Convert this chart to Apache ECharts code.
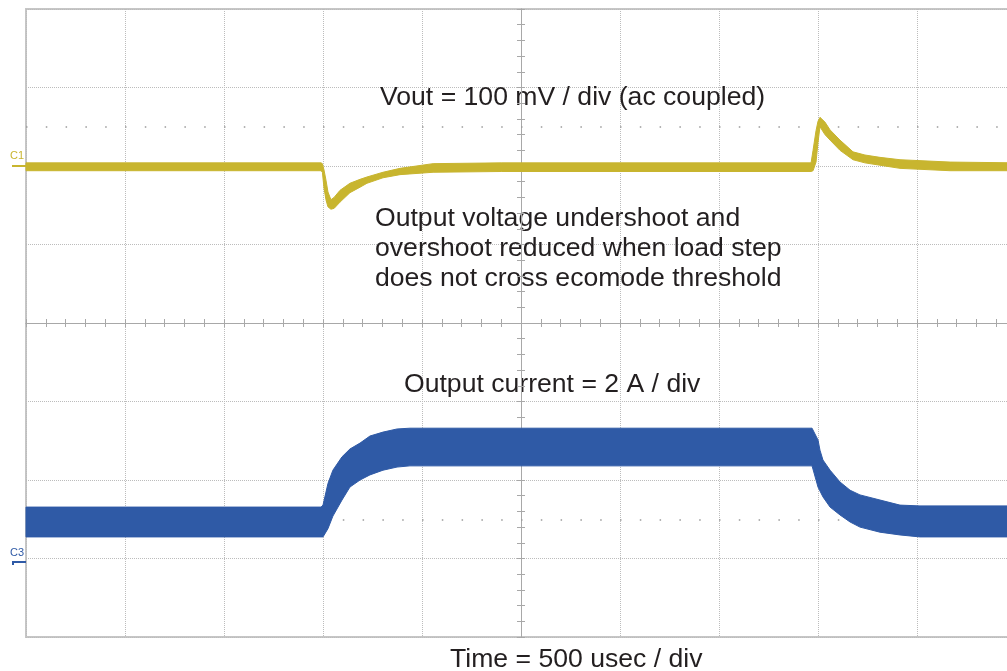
<!DOCTYPE html>
<html><head><meta charset="utf-8">
<script src="https://cdn.jsdelivr.net/npm/echarts@6/dist/echarts.min.js"></script>
<style>html,body{margin:0;padding:0;background:#fff}#c{width:1007px;height:671px}</style>
</head><body><div id="c"></div>
<script>
// ---- data (time in microseconds) ----
// C1: output voltage, ac coupled, mV (envelope of the noisy trace)
const c1Time  = [0, 1490, 1497, 1505, 1515, 1525, 1540, 1556, 1586, 1636, 1687, 1722, 1803, 1889, 2056, 2400, 3965, 3975, 3990, 4000, 4010, 4035, 4061, 4111, 4177, 4237, 4313, 4414, 4667, 5000];
const c1Upper = [4, 4, 3, -5, -18, -33, -43, -40, -31, -22, -17, -14, -8, -3, 3, 4, 4, 20, 45, 57, 62, 56, 46, 33, 18, 14, 11, 8, 5, 4];
const c1Lower = [-6, -6, -8, -28, -43, -52, -55, -54, -46, -34, -27, -22, -15, -11, -8, -7, -7, -6, 5, 30, 50, 40, 33, 20, 8, 4, 1, -3, -6, -6];
// C3: output current, A (envelope of the noisy trace)
const c3Time  = [0, 1490, 1500, 1525, 1550, 1596, 1636, 1687, 1737, 1803, 1874, 1939, 3970, 4000, 4010, 4025, 4061, 4111, 4162, 4212, 4313, 4414, 4515, 5000];
const c3Upper = [1.40, 1.40, 1.45, 2.00, 2.34, 2.68, 2.88, 3.03, 3.21, 3.31, 3.39, 3.41, 3.41, 3.11, 2.85, 2.60, 2.34, 2.04, 1.83, 1.71, 1.58, 1.45, 1.43, 1.43];
const c3Lower = [0.64, 0.64, 0.64, 0.85, 1.17, 1.58, 1.91, 2.09, 2.22, 2.34, 2.42, 2.45, 2.45, 1.91, 1.81, 1.66, 1.40, 1.20, 1.02, 0.89, 0.76, 0.69, 0.64, 0.64];
// scales
const timeRange = [0, 5000], timePerDiv = 500;     // 500 usec / div
const c1Range = [-600, 200], c1PerDiv = 100;       // 100 mV / div
const c3Range = [-1.91, 14.09];                    // 2 A / div, ground marker slightly below a division
const annotations = {
  vout: 'Vout = 100 mV / div (ac coupled)',
  note: ['Output voltage undershoot and', 'overshoot reduced when load step', 'does not cross ecomode threshold'],
  iout: 'Output current = 2 A / div',
  time: 'Time = 500 usec / div'
};

const YEL = '#c8b52f', BLU = '#2f5aa6', GRID = '#bcbcbc', AX = '#a8a8a8';
const FONT = '"Liberation Sans", Arial, Helvetica, sans-serif';

function bandSeries(name, times, up, lo, color, yIdx) {
  return {
    type: 'custom', name, xAxisIndex: 0, yAxisIndex: yIdx, silent: true, animation: false, z: 5,
    data: times.map((t, i) => [t, up[i], lo[i]]),
    encode: { x: 0, y: [1, 2] },
    renderItem(params, api) {
      if (params.dataIndex !== 0) return null;
      const n = params.dataInsideLength, pts = [];
      for (let i = 0; i < n; i++) pts.push(api.coord([api.value(0, i), api.value(1, i)]));
      for (let i = n - 1; i >= 0; i--) pts.push(api.coord([api.value(0, i), api.value(2, i)]));
      return { type: 'polygon', z2: 10, shape: { points: pts }, style: { fill: color, stroke: color, lineWidth: 1 } };
    }
  };
}

const chart = echarts.init(document.getElementById('c'), null, { renderer: 'canvas' });
const hiddenAxis = { axisLine: { show: false, onZero: false }, axisTick: { show: false }, axisLabel: { show: false }, splitLine: { show: false } };
const tickAxis = (idx, inside) => ({
  type: 'value', min: -25, max: 25, interval: 1,
  axisLine: { show: true, onZero: true, onZeroAxisIndex: idx, lineStyle: { color: AX, width: 1 } },
  axisTick: { show: true, inside, length: 4, lineStyle: { color: AX, width: 1 } },
  axisLabel: { show: false }, splitLine: { show: false }
});
const tickYAxis = (idx, inside) => ({
  type: 'value', position: 'left', min: -20, max: 20, interval: 1,
  axisLine: { show: true, onZero: true, onZeroAxisIndex: idx, lineStyle: { color: AX, width: 1 } },
  axisTick: { show: true, inside, length: 4, lineStyle: { color: AX, width: 1 } },
  axisLabel: { show: false }, splitLine: { show: false }
});

chart.setOption({
  animation: false,
  backgroundColor: '#fff',
  grid: { left: 26, top: 9, right: -9, bottom: 34, show: true, borderColor: '#c6c6c6', borderWidth: 2, backgroundColor: 'transparent', outerBoundsMode: 'none' },
  xAxis: [
    Object.assign({ type: 'value', min: timeRange[0], max: timeRange[1], interval: timePerDiv, position: 'bottom' }, hiddenAxis,
      { splitLine: { show: true, lineStyle: { color: GRID, width: 1, type: 'dotted' } } }),
    tickAxis(2, false),
    tickAxis(2, true)
  ],
  yAxis: [
    Object.assign({ type: 'value', position: 'left', min: c1Range[0], max: c1Range[1], interval: c1PerDiv }, hiddenAxis,
      { splitLine: { show: true, lineStyle: { color: GRID, width: 1, type: 'dotted' } } }),
    Object.assign({ type: 'value', position: 'left', min: c3Range[0], max: c3Range[1] }, hiddenAxis),
    tickYAxis(1, false),
    tickYAxis(1, true)
  ],
  series: [
    {
      type: 'line', name: 'graticule dots', xAxisIndex: 1, yAxisIndex: 2, data: [], z: 1, silent: true,
      markLine: {
        silent: true, symbol: 'none', label: { show: false }, z: 1,
        lineStyle: { color: '#9a9a9a', width: 1.5, type: [1.5, 18.3] },
        data: [{ yAxis: 12.5 }, { yAxis: -12.5 }]
      }
    },
    bandSeries('C1', c1Time, c1Upper, c1Lower, YEL, 0),
    bandSeries('C3', c3Time, c3Upper, c3Lower, BLU, 1)
  ]
});

// channel ground markers and annotation texts
const y1 = chart.convertToPixel({ yAxisIndex: 0 }, 0);
const y3 = chart.convertToPixel({ yAxisIndex: 1 }, 0);
const txt = (x, y, text) => ({ type: 'text', x, y, silent: true,
  style: { text, fill: '#231f20', font: '26.6px ' + FONT, verticalAlign: 'middle', align: 'left' } });
chart.setOption({
  graphic: [
    { type: 'text', x: 10, y: y1 - 5, style: { text: 'C1', fill: YEL, font: '11px ' + FONT, verticalAlign: 'bottom' } },
    { type: 'polyline', shape: { points: [[13, y1 + 1], [13, y1], [26, y1]] }, style: { stroke: YEL, lineWidth: 2, fill: null } },
    { type: 'text', x: 10, y: y3 - 4, style: { text: 'C3', fill: BLU, font: '11px ' + FONT, verticalAlign: 'bottom' } },
    { type: 'polyline', shape: { points: [[13, y3 + 3], [13, y3], [26, y3]] }, style: { stroke: BLU, lineWidth: 2, fill: null } },
    txt(380, 98, annotations.vout),
    txt(375, 219, annotations.note[0]),
    txt(375, 249, annotations.note[1]),
    txt(375, 279, annotations.note[2]),
    txt(404, 385, annotations.iout),
    txt(450, 660, annotations.time)
  ]
});
</script></body></html>
